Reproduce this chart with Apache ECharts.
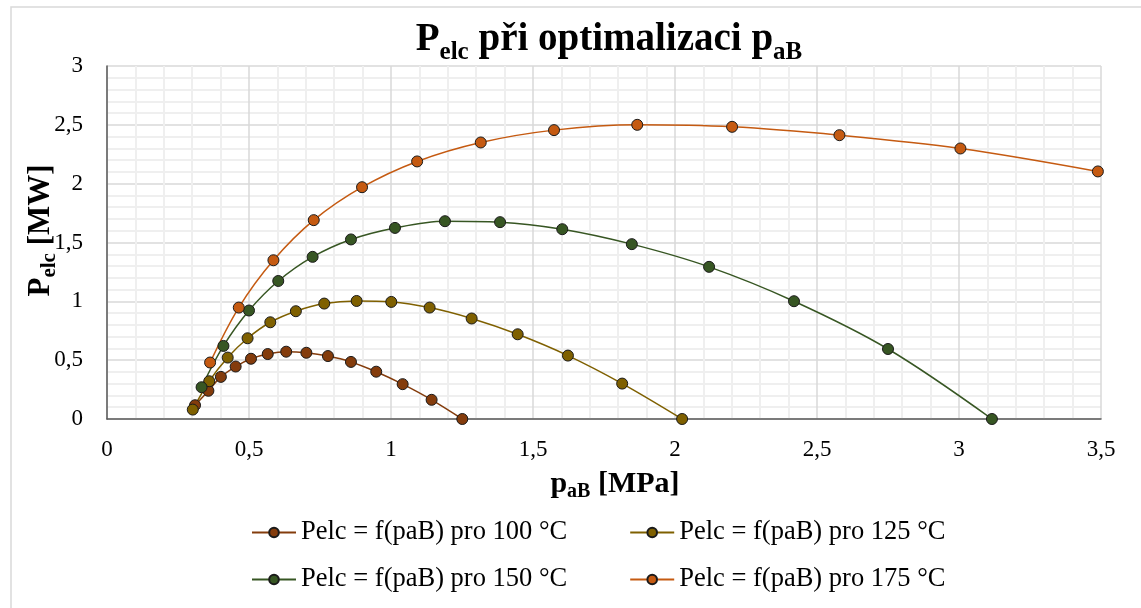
<!DOCTYPE html>
<html>
<head>
<meta charset="utf-8">
<script src="https://cdn.jsdelivr.net/npm/echarts@6/dist/echarts.min.js"></script>
<style>
  html, body { margin: 0; padding: 0; background: #ffffff; }
  #chart { width: 1141px; height: 608px; }
</style>
</head>
<body>
<div id="chart"></div>
<script>
// pressure p_aB [MPa] and electric power P_elc [MW] for each temperature
const pa100 = [0.310, 0.357, 0.401, 0.453, 0.507, 0.566, 0.631, 0.702, 0.778, 0.859, 0.948, 1.041, 1.143, 1.251];
const pe100 = [0.117, 0.240, 0.358, 0.446, 0.512, 0.552, 0.572, 0.563, 0.535, 0.485, 0.402, 0.296, 0.163, 0.0];

const pa125 = [0.302, 0.360, 0.425, 0.495, 0.575, 0.665, 0.765, 0.879, 1.001, 1.136, 1.284, 1.446, 1.623, 1.814, 2.025];
const pe125 = [0.080, 0.321, 0.522, 0.686, 0.822, 0.916, 0.981, 1.003, 0.995, 0.947, 0.854, 0.720, 0.539, 0.301, 0.0];

const pa150 = [0.333, 0.410, 0.500, 0.603, 0.724, 0.859, 1.014, 1.190, 1.384, 1.603, 1.848, 2.120, 2.419, 2.750, 3.116];
const pe150 = [0.270, 0.621, 0.922, 1.173, 1.378, 1.526, 1.624, 1.681, 1.673, 1.613, 1.486, 1.293, 1.001, 0.595, 0.0];

const pa175 = [0.363, 0.464, 0.586, 0.728, 0.898, 1.092, 1.316, 1.574, 1.867, 2.201, 2.579, 3.005, 3.489];
const pe175 = [0.480, 0.947, 1.349, 1.690, 1.970, 2.189, 2.350, 2.455, 2.500, 2.483, 2.412, 2.299, 2.104];

const seriesNames = [
  'Pelc = f(paB) pro 100 °C',
  'Pelc = f(paB) pro 125 °C',
  'Pelc = f(paB) pro 150 °C',
  'Pelc = f(paB) pro 175 °C'
];
const seriesColors = ['#843C0C', '#7F6000', '#375623', '#C55A11'];

const xTicks = { min: 0, max: 3.5, step: 0.5 };
const yTicks = { min: 0, max: 3, step: 0.5 };

const FONT = "'Liberation Serif', 'Times New Roman', serif";
const pairs = (xs, ys) => xs.map((x, i) => [x, ys[i]]);
const comma = v => String(v).replace('.', ',');

const dataSets = [pairs(pa100, pe100), pairs(pa125, pe125), pairs(pa150, pe150), pairs(pa175, pe175)];

const chart = echarts.init(document.getElementById('chart'), null, { renderer: 'canvas' });

const legendBase = {
  orient: 'horizontal',
  itemWidth: 44,
  itemHeight: 12,
  itemGap: 62,
  textStyle: { fontFamily: FONT, fontSize: 26.5, color: '#000000', padding: [0, 0, 0, 0] }
};

chart.setOption({
  backgroundColor: '#ffffff',
  animation: false,
  title: {
    text: 'P{s|elc} při optimalizaci p{s|aB}',
    left: 604,
    top: 10,
    textAlign: 'center',
    textStyle: {
      fontFamily: FONT,
      fontSize: 39,
      fontWeight: 'bold',
      color: '#000000',
      lineHeight: 50,
      verticalAlign: 'middle',
      rich: {
        s: { fontFamily: FONT, fontSize: 25, fontWeight: 'bold', color: '#000000', lineHeight: 50, verticalAlign: 'bottom' }
      }
    }
  },
  legend: [
    Object.assign({}, legendBase, { data: [seriesNames[0], seriesNames[1]], left: 246, top: 514 }),
    Object.assign({}, legendBase, { data: [seriesNames[2], seriesNames[3]], left: 246, top: 561 })
  ],
  grid: { left: 107, right: 40, top: 66, bottom: 189, containLabel: false },
  xAxis: {
    type: 'value',
    min: xTicks.min,
    max: xTicks.max,
    interval: xTicks.step,
    name: 'p{s|aB} [MPa]',
    nameLocation: 'middle',
    nameGap: 52,
    nameTextStyle: {
      fontFamily: FONT, fontSize: 30, fontWeight: 'bold', color: '#000000',
      padding: [0, 0, 0, 22],
      lineHeight: 36, verticalAlign: 'middle',
      rich: { s: { fontFamily: FONT, fontSize: 20, fontWeight: 'bold', color: '#000000', lineHeight: 36, verticalAlign: 'bottom' } }
    },
    axisLine: { show: true, onZero: false, lineStyle: { color: '#595959', width: 1.5 } },
    axisTick: { show: false },
    axisLabel: { fontFamily: FONT, fontSize: 23, color: '#000000', margin: 19, formatter: comma },
    splitLine: { show: true, lineStyle: { color: '#d9d9d9', width: 1.5 } },
    minorTick: { show: false, splitNumber: 5 },
    minorSplitLine: { show: true, lineStyle: { color: '#efefef', width: 2 } }
  },
  yAxis: {
    type: 'value',
    min: yTicks.min,
    max: yTicks.max,
    interval: yTicks.step,
    name: 'P{s|elc} [MW]',
    nameLocation: 'middle',
    nameRotate: 90,
    nameGap: 66,
    nameMoveOverlap: false,
    nameTextStyle: {
      fontFamily: FONT, fontSize: 31, fontWeight: 'bold', color: '#000000',
      lineHeight: 38, verticalAlign: 'middle',
      padding: [0, 0, 0, 24],
      rich: { s: { fontFamily: FONT, fontSize: 21, fontWeight: 'bold', color: '#000000', lineHeight: 38, verticalAlign: 'bottom' } }
    },
    axisLine: { show: true, onZero: false, lineStyle: { color: '#595959', width: 1.5 } },
    axisTick: { show: false },
    axisLabel: { fontFamily: FONT, fontSize: 23, color: '#000000', margin: 24, formatter: comma },
    splitLine: { show: true, lineStyle: { color: '#d9d9d9', width: 1.5 } },
    minorTick: { show: false, splitNumber: 5 },
    minorSplitLine: { show: true, lineStyle: { color: '#efefef', width: 2 } }
  },
  graphic: [
    {
      type: 'rect',
      z: -10,
      silent: true,
      shape: { x: 11, y: 7, width: 1160, height: 640 },
      style: { fill: 'none', stroke: '#d9d9d9', lineWidth: 1.5 }
    }
  ],
  series: dataSets.map((d, i) => ({
    name: seriesNames[i],
    type: 'line',
    data: d,
    smooth: 0.35,
    symbol: 'circle',
    symbolSize: 11,
    showSymbol: true,
    clip: false,
    lineStyle: { color: seriesColors[i], width: 1.5 },
    itemStyle: { color: seriesColors[i], borderColor: '#1a1a1a', borderWidth: 1 },
    emphasis: { disabled: true }
  }))
});
</script>
</body>
</html>
